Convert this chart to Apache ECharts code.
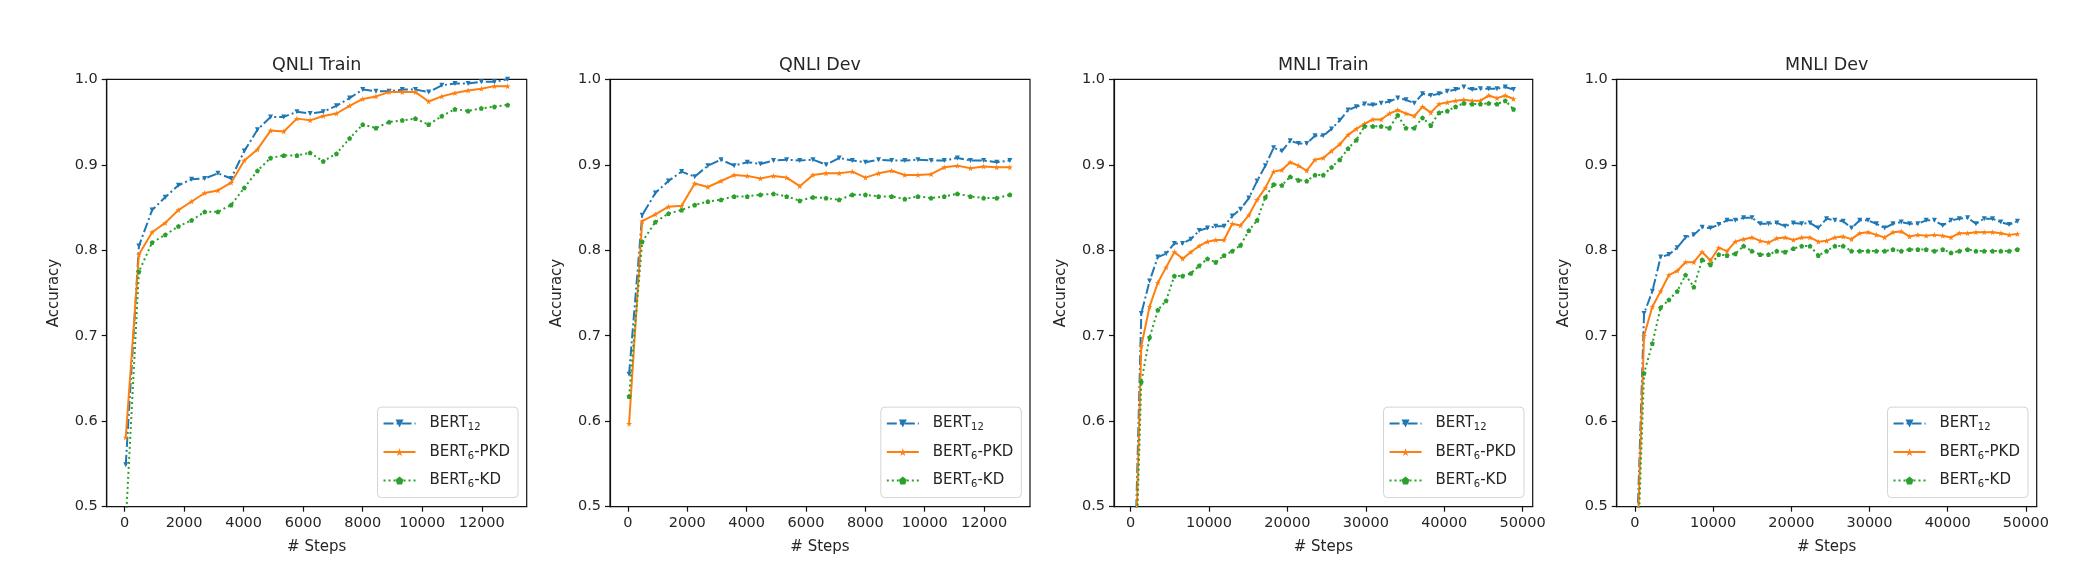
<!DOCTYPE html>
<html>
<head>
<meta charset="utf-8">
<script src="https://cdn.jsdelivr.net/npm/echarts@6/dist/echarts.min.js"></script>
<style>
html,body{margin:0;padding:0;background:#fff;}
#chart{width:2086px;height:572px;}
</style>
</head>
<body>
<div id="chart"></div>
<script>
// ---------- data ----------
const panelTitles = ['QNLI Train', 'QNLI Dev', 'MNLI Train', 'MNLI Dev'];
const seriesNames = ['BERT12', 'BERT6-PKD', 'BERT6-KD'];
const qnliTicks = [0, 2000, 4000, 6000, 8000, 10000, 12000];
const mnliTicks = [0, 10000, 20000, 30000, 40000, 50000];
const yTicks = [0.5, 0.6, 0.7, 0.8, 0.9, 1.0];

const qnliSteps = [40, 482, 925, 1367, 1810, 2252, 2694, 3137, 3579, 4022, 4464, 4906, 5349, 5791, 6234,
  6676, 7118, 7561, 8003, 8446, 8888, 9330, 9773, 10215, 10658, 11100, 11542, 11985, 12427, 12870];

const qnliTrainBert12 = [0.549, 0.805, 0.847, 0.862, 0.876, 0.883, 0.884, 0.890, 0.884, 0.916, 0.941, 0.956, 0.956, 0.962, 0.960,
  0.962, 0.969, 0.978, 0.988, 0.986, 0.986, 0.988, 0.988, 0.985, 0.993, 0.995, 0.995, 0.997, 0.997, 1.0];
const qnliTrainPkd = [0.581, 0.795, 0.821, 0.832, 0.847, 0.857, 0.867, 0.870, 0.879, 0.905, 0.918, 0.940, 0.939, 0.954, 0.952,
  0.957, 0.960, 0.969, 0.977, 0.980, 0.985, 0.985, 0.985, 0.974, 0.980, 0.984, 0.987, 0.989, 0.992, 0.992];
const qnliTrainKd = [0.48, 0.775, 0.809, 0.818, 0.828, 0.835, 0.845, 0.845, 0.853, 0.873, 0.893, 0.908, 0.911, 0.911, 0.914,
  0.904, 0.913, 0.931, 0.947, 0.943, 0.950, 0.952, 0.954, 0.947, 0.957, 0.965, 0.963, 0.966, 0.968, 0.970];

const qnliDevBert12 = [0.655, 0.841, 0.867, 0.881, 0.892, 0.886, 0.899, 0.906, 0.899, 0.903, 0.901, 0.905, 0.906, 0.905, 0.906,
  0.900, 0.908, 0.905, 0.903, 0.906, 0.905, 0.905, 0.906, 0.905, 0.905, 0.908, 0.905, 0.905, 0.903, 0.905];
const qnliDevPkd = [0.597, 0.834, 0.842, 0.851, 0.852, 0.878, 0.874, 0.881, 0.888, 0.887, 0.884, 0.887, 0.885, 0.875, 0.888,
  0.890, 0.890, 0.892, 0.885, 0.890, 0.893, 0.888, 0.888, 0.889, 0.897, 0.899, 0.896, 0.898, 0.897, 0.897];
const qnliDevKd = [0.629, 0.810, 0.833, 0.843, 0.847, 0.853, 0.857, 0.859, 0.863, 0.863, 0.865, 0.866, 0.863, 0.858, 0.862,
  0.861, 0.859, 0.865, 0.865, 0.863, 0.863, 0.860, 0.863, 0.861, 0.863, 0.866, 0.863, 0.861, 0.861, 0.865];

const mnliTrainSteps = [310, 1365, 2420, 3475, 4530, 5585, 6640, 7695, 8750, 9805, 10860, 11915, 12970, 14025, 15080, 16135,
  17190, 18245, 19300, 20355, 21410, 22465, 23520, 24575, 25630, 26685, 27740, 28795, 29850, 30905, 31960, 33015,
  34070, 35125, 36180, 37235, 38290, 39345, 40400, 41455, 42510, 43565, 44620, 45675, 46730, 47785, 48840];
const mnliTrainBert12 = [0.35, 0.726, 0.764, 0.792, 0.796, 0.808, 0.808, 0.813, 0.823, 0.826, 0.828, 0.828, 0.840, 0.848, 0.861,
  0.881, 0.899, 0.920, 0.916, 0.928, 0.925, 0.925, 0.934, 0.934, 0.942, 0.952, 0.964, 0.968, 0.971, 0.970, 0.972, 0.974,
  0.978, 0.976, 0.972, 0.983, 0.981, 0.983, 0.986, 0.988, 0.991, 0.988, 0.989, 0.989, 0.989, 0.991, 0.988];
const mnliTrainPkd = [0.33, 0.688, 0.734, 0.762, 0.780, 0.798, 0.790, 0.798, 0.805, 0.810, 0.812, 0.812, 0.831, 0.829, 0.841,
  0.859, 0.873, 0.892, 0.894, 0.903, 0.899, 0.893, 0.906, 0.908, 0.916, 0.924, 0.935, 0.942, 0.948, 0.953, 0.953, 0.960,
  0.964, 0.960, 0.957, 0.968, 0.961, 0.971, 0.973, 0.975, 0.976, 0.975, 0.975, 0.981, 0.978, 0.981, 0.977];
const mnliTrainKd = [0.32, 0.646, 0.698, 0.730, 0.741, 0.770, 0.770, 0.773, 0.782, 0.790, 0.786, 0.794, 0.799, 0.806, 0.823,
  0.835, 0.862, 0.877, 0.876, 0.886, 0.882, 0.881, 0.888, 0.888, 0.897, 0.906, 0.919, 0.929, 0.945, 0.945, 0.945, 0.943,
  0.958, 0.943, 0.943, 0.955, 0.946, 0.961, 0.963, 0.968, 0.972, 0.971, 0.971, 0.972, 0.971, 0.975, 0.965];

const mnliDevSteps = [110, 1171, 2232, 3293, 4354, 5415, 6476, 7537, 8598, 9659, 10720, 11781, 12842, 13903, 14964, 16025,
  17086, 18147, 19208, 20269, 21330, 22391, 23452, 24513, 25574, 26635, 27696, 28757, 29818, 30879, 31940, 33001,
  34062, 35123, 36184, 37245, 38306, 39367, 40428, 41489, 42550, 43611, 44672, 45733, 46794, 47855, 48916];
const mnliDevBert12 = [0.42, 0.726, 0.752, 0.792, 0.795, 0.803, 0.815, 0.818, 0.827, 0.826, 0.830, 0.835, 0.835, 0.838, 0.838,
  0.831, 0.831, 0.832, 0.828, 0.832, 0.831, 0.832, 0.826, 0.837, 0.835, 0.834, 0.826, 0.835, 0.835, 0.831, 0.826, 0.831,
  0.833, 0.831, 0.831, 0.835, 0.835, 0.829, 0.835, 0.837, 0.838, 0.831, 0.837, 0.837, 0.833, 0.830, 0.834];
const mnliDevPkd = [0.40, 0.700, 0.734, 0.752, 0.771, 0.776, 0.786, 0.786, 0.798, 0.788, 0.803, 0.799, 0.810, 0.813, 0.815,
  0.811, 0.809, 0.814, 0.815, 0.812, 0.815, 0.815, 0.810, 0.811, 0.815, 0.816, 0.813, 0.820, 0.821, 0.818, 0.815, 0.821,
  0.822, 0.816, 0.818, 0.817, 0.818, 0.817, 0.815, 0.820, 0.820, 0.821, 0.821, 0.821, 0.820, 0.818, 0.819];
const mnliDevKd = [0.38, 0.656, 0.691, 0.733, 0.742, 0.752, 0.771, 0.757, 0.789, 0.783, 0.795, 0.794, 0.796, 0.805, 0.799,
  0.795, 0.795, 0.799, 0.798, 0.802, 0.805, 0.805, 0.794, 0.799, 0.805, 0.805, 0.799, 0.799, 0.799, 0.799, 0.799, 0.801,
  0.799, 0.801, 0.801, 0.801, 0.799, 0.801, 0.797, 0.799, 0.801, 0.799, 0.799, 0.799, 0.799, 0.799, 0.801];

// ---------- layout / style ----------
const FONT = 'DejaVu Sans';
const TXT = '#262626';
const colors = ['#1f77b4', '#ff7f0e', '#2ca02c'];
const lineTypes = [[10, 3, 2, 3], 'solid', [2, 3]];
const symbols = [
  'path://M0,0 L10,0 L5,9 Z',
  'path://M5,0 L6.2,3.6 L10,3.6 L6.9,5.8 L8.1,9.5 L5,7.2 L1.9,9.5 L3.1,5.8 L0,3.6 L3.8,3.6 Z',
  'path://M5,0 L10,3.6 L8.1,9.5 L1.9,9.5 L0,3.6 Z'
];
const symbolSizes = [5, 6, 5];

const panels = [
  { steps: qnliSteps, vals: [qnliTrainBert12, qnliTrainPkd, qnliTrainKd], ticks: qnliTicks, xr: [-600, 13510],
    grid: { left: 106.7, top: 79.3, width: 420, height: 427.4 } },
  { steps: qnliSteps, vals: [qnliDevBert12, qnliDevPkd, qnliDevKd], ticks: qnliTicks, xr: [-603, 13548],
    grid: { left: 610, top: 79.3, width: 420, height: 427.4 } },
  { steps: mnliTrainSteps, vals: [mnliTrainBert12, mnliTrainPkd, mnliTrainKd], ticks: mnliTicks, xr: [-2117, 51288],
    grid: { left: 1114, top: 79.3, width: 418.7, height: 427.4 } },
  { steps: mnliDevSteps, vals: [mnliDevBert12, mnliDevPkd, mnliDevKd], ticks: mnliTicks, xr: [-2327, 51381],
    grid: { left: 1616.7, top: 79.3, width: 420, height: 427.4 } }
];

const legendLabels = {
  'BERT12': '{m|BERT}{s|12}',
  'BERT6-PKD': '{m|BERT}{s|6}{m|-PKD}',
  'BERT6-KD': '{m|BERT}{s|6}{m|-KD}'
};

const option = {
  animation: false,
  backgroundColor: '#fff',
  title: [], grid: [], xAxis: [], yAxis: [], legend: [], series: []
};

panels.forEach((p, k) => {
  const g = p.grid;
  option.grid.push(Object.assign({ show: true, borderColor: '#111', borderWidth: 1.2, backgroundColor: 'transparent' }, g));
  option.title.push({
    text: panelTitles[k], left: g.left + g.width / 2, top: 56, textAlign: 'center', padding: 0,
    textStyle: { fontFamily: FONT, fontSize: 17.5, fontWeight: 'normal', color: TXT }
  });
  option.xAxis.push({
    type: 'value', gridIndex: k, min: p.xr[0], max: p.xr[1],
    name: '# Steps', nameLocation: 'middle', nameGap: 33,
    nameTextStyle: { fontFamily: FONT, fontSize: 15, color: TXT },
    axisLine: { show: true, onZero: false, lineStyle: { color: '#111', width: 1.2 } },
    axisTick: { show: true, inside: false, length: 5, customValues: p.ticks, lineStyle: { color: '#111', width: 1.2 } },
    axisLabel: { customValues: p.ticks, margin: 9, fontFamily: FONT, fontSize: 14.5, color: TXT, formatter: v => String(v) },
    splitLine: { show: false }
  });
  option.yAxis.push({
    type: 'value', gridIndex: k, min: 0.5, max: 1.0, interval: 0.1,
    name: 'Accuracy', nameLocation: 'middle', nameGap: 45,
    nameTextStyle: { fontFamily: FONT, fontSize: 15, color: TXT },
    axisLine: { show: true, onZero: false, lineStyle: { color: '#111', width: 1.2 } },
    axisTick: { show: true, inside: false, length: 5, lineStyle: { color: '#111', width: 1.2 } },
    axisLabel: { margin: 9, fontFamily: FONT, fontSize: 14.5, color: TXT, formatter: v => v.toFixed(1) },
    splitLine: { show: false }
  });
  option.legend.push({
    orient: 'vertical',
    right: 2086 - (g.left + g.width - 8.7),
    bottom: 74.4,
    data: seriesNames,
    itemWidth: 32, itemHeight: 10, itemGap: 12,
    padding: [9, 8, 8, 5],
    borderColor: '#d4d4d4', borderWidth: 1, borderRadius: 4,
    backgroundColor: 'rgba(255,255,255,0.85)',
    selectedMode: false,
    formatter: n => legendLabels[n],
    textStyle: {
      fontFamily: FONT, fontSize: 15, color: TXT, padding: [0, 0, 0, 9],
      rich: {
        m: { fontFamily: FONT, fontSize: 15, color: TXT, lineHeight: 18, verticalAlign: 'middle' },
        s: { fontFamily: FONT, fontSize: 10, color: TXT, lineHeight: 10, verticalAlign: 'bottom' }
      }
    }
  });
  seriesNames.forEach((nm, j) => {
    option.series.push({
      type: 'line', name: nm, xAxisIndex: k, yAxisIndex: k,
      data: p.steps.map((s, i) => [s, p.vals[j][i]]),
      clip: true,
      symbol: symbols[j], symbolSize: symbolSizes[j], showSymbol: true, showAllSymbol: true,
      lineStyle: { color: colors[j], width: 2, type: lineTypes[j] },
      itemStyle: { color: colors[j], borderWidth: 0 },
      emphasis: { disabled: true }
    });
  });
});

const chart = echarts.init(document.getElementById('chart'), null, { renderer: 'canvas' });
chart.setOption(option);
</script>
</body>
</html>
